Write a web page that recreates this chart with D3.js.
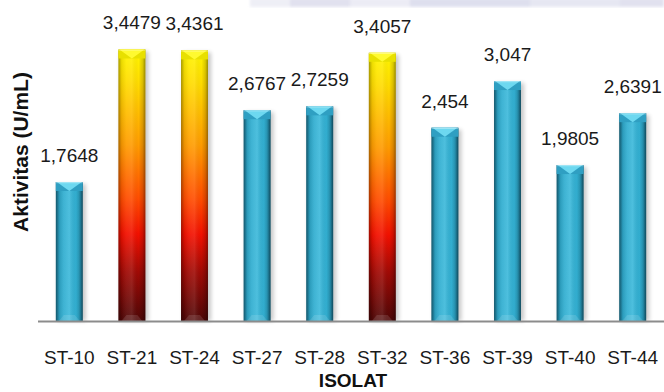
<!DOCTYPE html>
<html>
<head>
<meta charset="utf-8">
<script src="https://cdn.jsdelivr.net/npm/d3@7"></script>
<style>
  html, body { margin: 0; padding: 0; background: #fff; }
  svg { display: block; }
</style>
</head>
<body>
<svg id="chart" width="664" height="392"></svg>
<script>
// Enzyme activity per isolate
const isolates = ["ST-10", "ST-21", "ST-24", "ST-27", "ST-28", "ST-32", "ST-36", "ST-39", "ST-40", "ST-44"];
const activity = [1.7648, 3.4479, 3.4361, 2.6767, 2.7259, 3.4057, 2.454, 3.047, 1.9805, 2.6391];
const labels = ["1,7648", "3,4479", "3,4361", "2,6767", "2,7259", "3,4057", "2,454", "3,047", "1,9805", "2,6391"];
const highlighted = ["ST-21", "ST-24", "ST-32"];

const svg = d3.select("#chart");
const plotLeft = 38, plotRight = 664, plotBase = 321, plotTop = 6;

const x = d3.scaleBand().domain(isolates).range([plotLeft, plotRight])
  .paddingInner(0.57).paddingOuter(0.285);
const y = d3.scaleLinear().domain([0, 4]).range([plotBase, plotTop]);

const defs = svg.append("defs");

// fiery vertical fill for highlighted isolates
const fire = defs.append("linearGradient").attr("id", "fire")
  .attr("x1", 0).attr("y1", 0).attr("x2", 0).attr("y2", 1);
[[0, "#fff600"], [0.12, "#ffdc00"], [0.35, "#ff9c00"], [0.55, "#ff4c00"], [0.68, "#f21000"],
 [0.82, "#a00a05"], [1, "#4e0707"]].forEach(([o, c]) =>
  fire.append("stop").attr("offset", o).attr("stop-color", c));

// cyan fill
const teal = defs.append("linearGradient").attr("id", "teal")
  .attr("x1", 0).attr("y1", 0).attr("x2", 1).attr("y2", 0);
[[0, "#1f86a6"], [0.15, "#2ea8ca"], [0.5, "#3ab8da"], [0.85, "#2ea8ca"], [1, "#1c7d9c"]].forEach(([o, c]) =>
  teal.append("stop").attr("offset", o).attr("stop-color", c));

// side shading shared by all bars
const side = defs.append("linearGradient").attr("id", "side")
  .attr("x1", 0).attr("y1", 0).attr("x2", 1).attr("y2", 0);
[[0, "#000", 0.35], [0.12, "#000", 0.08], [0.3, "#fff", 0.06], [0.5, "#fff", 0.1],
 [0.75, "#000", 0.0], [0.9, "#000", 0.15], [1, "#000", 0.4]].forEach(([o, c, a]) =>
  side.append("stop").attr("offset", o).attr("stop-color", c).attr("stop-opacity", a));

const blur = defs.append("filter").attr("id", "shadow")
  .attr("x", "-50%").attr("y", "-10%").attr("width", "200%").attr("height", "120%");
blur.append("feGaussianBlur").attr("stdDeviation", 2);

const haze = defs.append("filter").attr("id", "haze");
haze.append("feGaussianBlur").attr("stdDeviation", 1.5);

// faint band along the top edge
const band = svg.append("g").attr("filter", "url(#haze)");
[[250, 40, 0.3], [290, 60, 0.55], [350, 60, 0.35], [410, 120, 0.6], [530, 90, 0.45], [620, 44, 0.55]].forEach(([bx, bw, a]) =>
  band.append("rect").attr("x", bx).attr("y", -2).attr("width", bw).attr("height", 9)
    .attr("fill", "#c8c9e2").attr("opacity", a));

const bw = x.bandwidth();
const bars = svg.append("g").selectAll("g").data(isolates).join("g");

bars.each(function (d, i) {
  const g = d3.select(this);
  const x0 = x(d), y0 = y(activity[i]), h = plotBase - y0;
  const hot = highlighted.includes(d);
  // soft drop shadow
  g.append("rect").attr("x", x0 + 2).attr("y", y0 + 2).attr("width", bw + 1).attr("height", h - 2)
    .attr("fill", "#000").attr("opacity", 0.22).attr("filter", "url(#shadow)");
  // body
  g.append("rect").attr("x", x0).attr("y", y0).attr("width", bw).attr("height", h)
    .attr("fill", hot ? "url(#fire)" : "url(#teal)");
  g.append("rect").attr("x", x0).attr("y", y0).attr("width", bw).attr("height", h)
    .attr("fill", "url(#side)");
  // bevelled cap
  const cap = 9;
  g.append("path")
    .attr("d", `M${x0},${y0}L${x0 + bw},${y0}L${x0 + bw},${y0 + cap}L${x0},${y0 + cap}Z`)
    .attr("fill", hot ? "#e8e000" : "#2f9fc2");
  g.append("path")
    .attr("d", `M${x0 + 1},${y0}L${x0 + bw - 1},${y0}L${x0 + bw / 2},${y0 + cap}Z`)
    .attr("fill", hot ? "#fffa30" : "#6dd8f0");
  g.append("rect").attr("x", x0).attr("y", y0).attr("width", bw).attr("height", 1.2)
    .attr("fill", "#fff").attr("opacity", 0.35);
  // bevelled foot
  g.append("path")
    .attr("d", `M${x0 + 3},${plotBase}L${x0 + bw - 3},${plotBase}L${x0 + bw - 8},${plotBase - 6}L${x0 + 8},${plotBase - 6}Z`)
    .attr("fill", "#fff").attr("opacity", 0.12);
});

// value labels
svg.append("g").selectAll("text").data(isolates).join("text")
  .attr("x", d => x(d) + bw / 2)
  .attr("y", (d, i) => y(activity[i]) - 20)
  .attr("text-anchor", "middle")
  .attr("font-family", "'Liberation Sans', Arial, sans-serif")
  .attr("font-size", 19)
  .attr("fill", "#1a1a1a")
  .text((d, i) => labels[i]);

// category axis
const xAxis = svg.append("g").attr("transform", `translate(0,${plotBase})`)
  .call(d3.axisBottom(x).tickSize(0).tickPadding(30));
xAxis.select(".domain").attr("stroke", "#8c8c8c").attr("stroke-width", 2)
  .attr("d", `M${plotLeft},0.5H${plotRight}`);
xAxis.selectAll("text")
  .attr("font-family", "'Liberation Sans', Arial, sans-serif")
  .attr("font-size", 19).attr("fill", "#1a1a1a");

// axis titles
svg.append("text")
  .attr("x", (plotLeft + plotRight) / 2 + 2).attr("y", 387)
  .attr("text-anchor", "middle")
  .attr("font-family", "'Liberation Sans Narrow', 'Liberation Sans', Arial, sans-serif")
  .attr("font-weight", "bold").attr("font-size", 19).attr("fill", "#111")
  .text("ISOLAT");

svg.append("text")
  .attr("transform", "translate(28,152) rotate(-90)")
  .attr("text-anchor", "middle")
  .attr("font-family", "'Liberation Sans Narrow', 'Liberation Sans', Arial, sans-serif")
  .attr("font-weight", "bold").attr("font-size", 21).attr("fill", "#111")
  .text("Aktivitas (U/mL)");
</script>
</body>
</html>
